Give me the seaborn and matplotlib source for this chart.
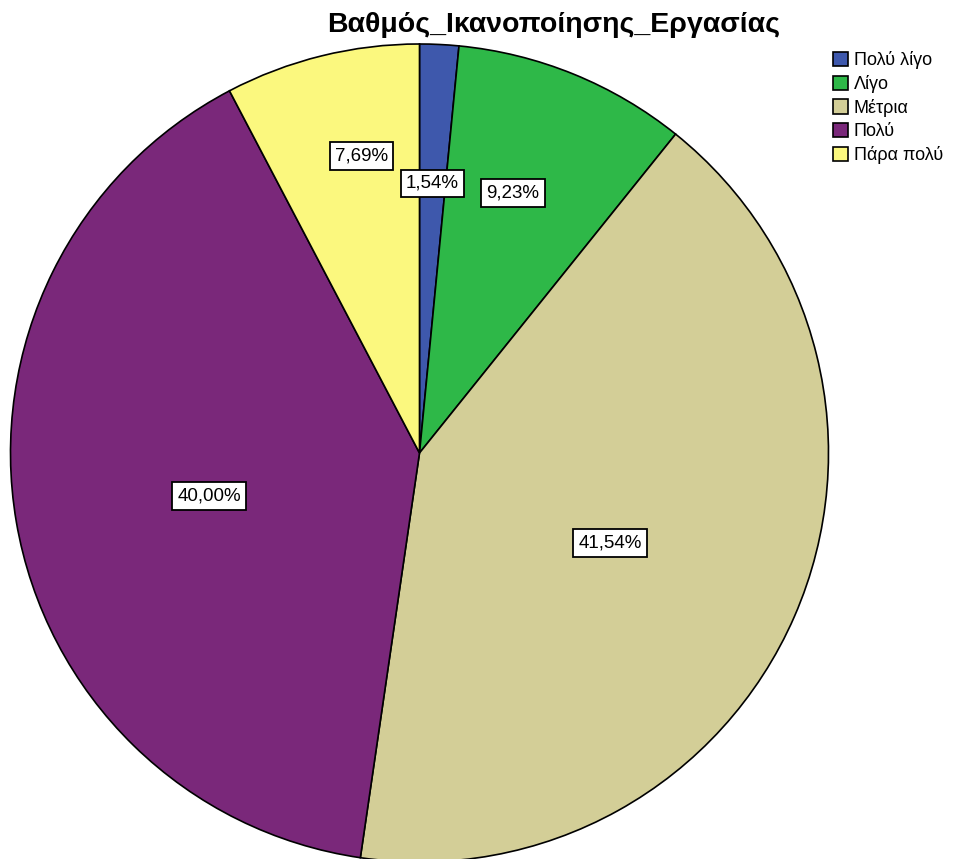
import matplotlib
matplotlib.use("Agg")
import matplotlib.pyplot as plt
import seaborn as sns
import numpy as np

categories = ["Πολύ λίγο", "Λίγο", "Μέτρια", "Πολύ", "Πάρα πολύ"]
values = [1.54, 9.23, 41.54, 40.00, 7.69]
value_labels = ["1,54%", "9,23%", "41,54%", "40,00%", "7,69%"]
colors = ["#3E58AC", "#2EB848", "#D3CE97", "#7A287A", "#FBF87E"]
label_dist = [0.66, 0.675, 0.515, 0.525, 0.74]
label_angle_shift = [0.0, 2.4, -1.8, 1.8, -2.8]

sns.set_theme(style="white")
plt.rcParams['font.family'] = ['Liberation Sans', 'DejaVu Sans']

W, H = 958, 859
fig = plt.figure(figsize=(W / 100, H / 100), dpi=100)
ax = fig.add_axes([0, 0, 1, 1])

cx, cy, r = 419.5, H - 453, 409
wedges, _ = ax.pie(values, colors=colors, startangle=90, counterclock=False,
                   center=(cx, cy), radius=r, frame=True,
                   wedgeprops=dict(edgecolor='black', linewidth=1.2))
ax.set_xlim(0, W)
ax.set_ylim(0, H)
ax.set_aspect('equal')
ax.axis('off')

for w, lab, d, sh in zip(wedges, value_labels, label_dist, label_angle_shift):
    ang = np.deg2rad((w.theta1 + w.theta2) / 2 + sh)
    x = cx + d * r * np.cos(ang)
    y = cy + d * r * np.sin(ang)
    ax.text(x, y, lab, ha='center', va='center', fontsize=13.5, color='black',
            bbox=dict(boxstyle='square,pad=0.28', facecolor='white', edgecolor='black', linewidth=1.3))

fig.text(553.5 / W, 1 - 25 / H, "Βαθμός_Ικανοποίησης_Εργασίας", ha='center', va='center',
         fontsize=20.5, fontweight='bold', color='black')

leg = ax.legend(wedges, categories, loc='upper left', bbox_to_anchor=(833 / W, 1 - 51 / H),
                bbox_transform=fig.transFigure, frameon=False, fontsize=13,
                handlelength=0.85, handleheight=0.85, handletextpad=0.3,
                labelspacing=0.33, borderaxespad=0, borderpad=0, labelcolor='black')

fig.savefig("out.png", dpi=100, facecolor='white')
